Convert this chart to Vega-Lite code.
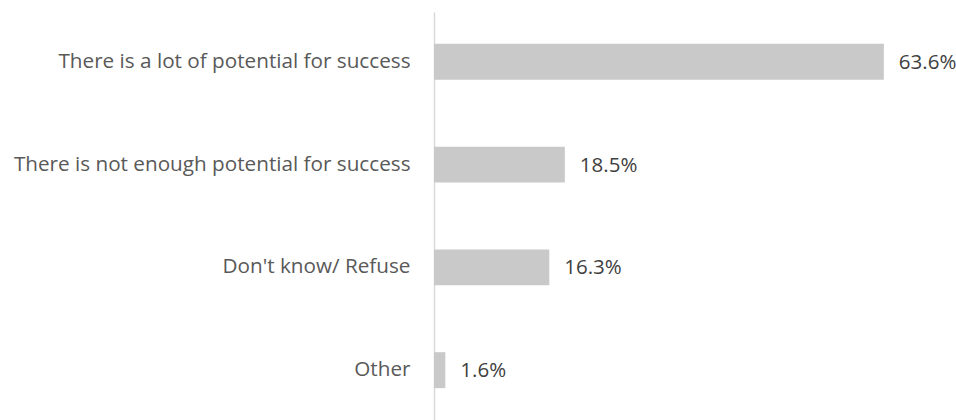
{
  "$schema": "https://vega.github.io/schema/vega-lite/v6.json",
  "width": 522,
  "height": 408,
  "autosize": "none",
  "padding": {"left": 434, "top": 12, "right": 0, "bottom": 0},
  "background": "white",
  "config": {
    "view": {"stroke": null},
    "font": "Open Sans"
  },
  "data": {
    "values": [
      {"answer": "There is a lot of potential for success", "share": 63.6},
      {"answer": "There is not enough potential for success", "share": 18.5},
      {"answer": "Don't know/ Refuse", "share": 16.3},
      {"answer": "Other", "share": 1.6}
    ]
  },
  "transform": [
    {"calculate": "format(datum.share, '.1f') + '%'", "as": "label"}
  ],
  "encoding": {
    "y": {
      "field": "answer",
      "type": "nominal",
      "sort": null,
      "scale": {"paddingInner": 0.65, "paddingOuter": 0.31},
      "axis": {
        "title": null,
        "ticks": false,
        "domain": true,
        "domainColor": "#d9d9d9",
        "domainWidth": 1.5,
        "labelPadding": 24,
        "labelFontSize": 20.7,
        "labelColor": "#595959",
        "labelLimit": 500
      }
    },
    "x": {
      "field": "share",
      "type": "quantitative",
      "scale": {"domain": [0, 73.8], "nice": false},
      "axis": null
    }
  },
  "layer": [
    {"mark": {"type": "bar", "color": "#c9c9c9"}},
    {
      "mark": {"type": "text", "align": "left", "baseline": "middle", "dx": 15, "dy": 1, "fontSize": 20.5, "color": "#404040"},
      "encoding": {
        "text": {"field": "label", "type": "nominal"}
      }
    }
  ]
}
